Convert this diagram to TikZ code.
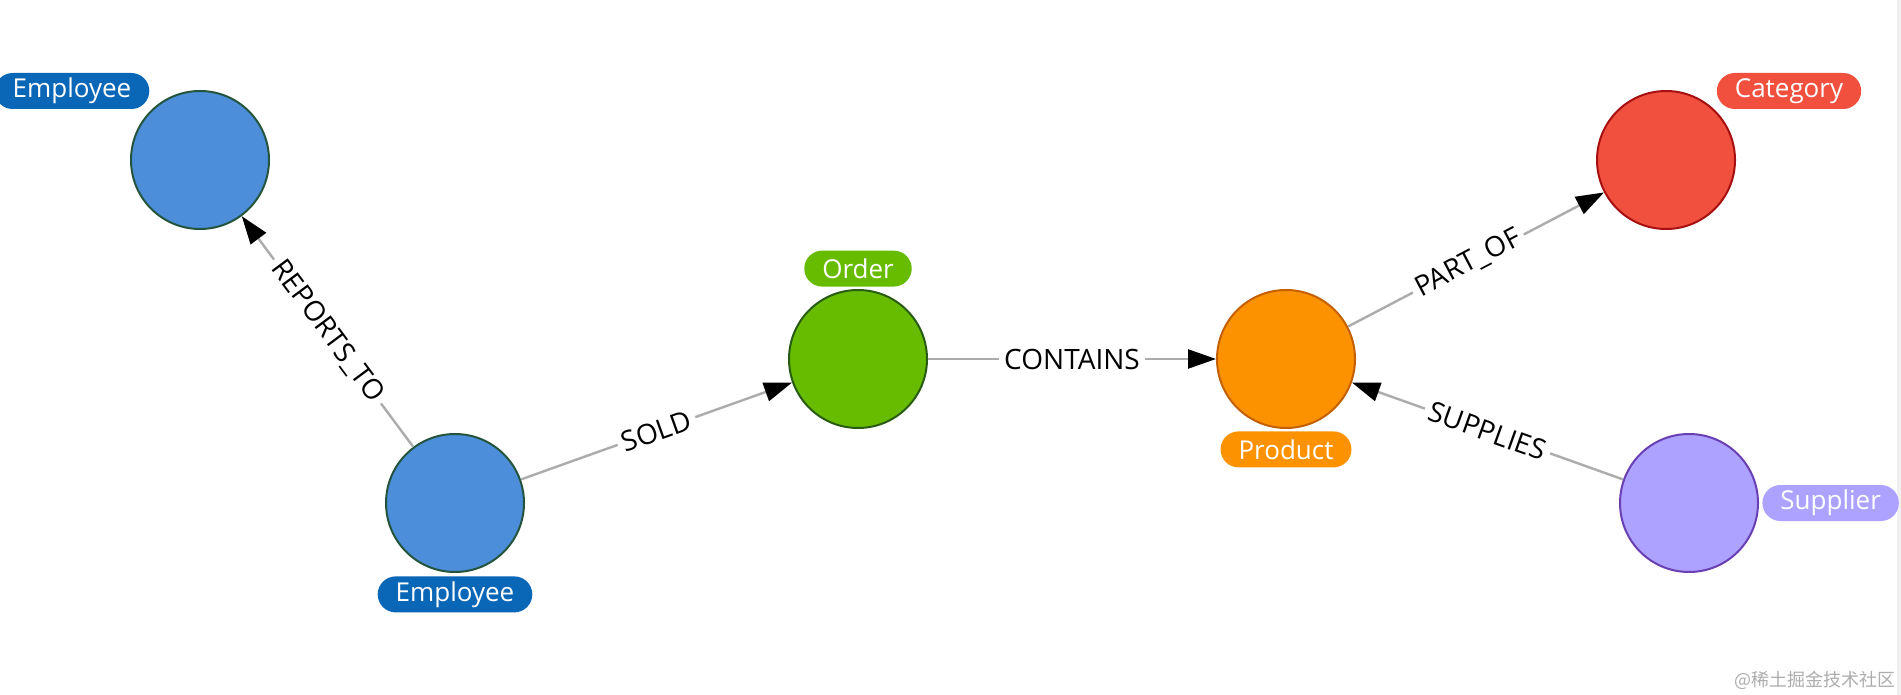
\documentclass[tikz,border=0pt]{standalone}
\usepackage{fontspec}
\setmainfont{Open Sans}
\newfontfamily\cjkfont{Noto Sans CJK SC}
\usepackage{xcolor}
\definecolor{empblue}{RGB}{76,142,218}
\definecolor{empedge}{RGB}{36,84,62}
\definecolor{emptag}{RGB}{10,102,183}
\definecolor{ordergreen}{RGB}{104,188,0}
\definecolor{orderedge}{RGB}{40,92,20}
\definecolor{prodorange}{RGB}{253,146,0}
\definecolor{prodedge}{RGB}{196,96,0}
\definecolor{catred}{RGB}{242,80,62}
\definecolor{catedge}{RGB}{166,16,16}
\definecolor{suppurple}{RGB}{173,162,255}
\definecolor{supedge}{RGB}{104,64,180}
\definecolor{relgray}{RGB}{172,172,172}
\usepackage{tikz}
\usetikzlibrary{positioning,arrows.meta}

\begin{document}
\begin{tikzpicture}[
    x=0.5pt, y=-0.5pt,
    entity/.style={circle, draw, line width=1pt, minimum size=69pt, inner sep=0pt},
    tag/.style={rounded corners=9pt, minimum height=18pt, inner xsep=9pt, inner ysep=0pt,
                text=white, font=\fontsize{13}{15}\selectfont},
    rel/.style={draw=relgray, line width=1.2pt, -{Triangle[length=14pt, width=9.5pt, color=black]}},
    rellabel/.style={fill=white, sloped, inner xsep=2.5pt, inner ysep=2pt,
                     font=\fontsize{14}{16}\selectfont}
  ]
                \useasboundingbox (0,0) rectangle (1901,695);
                \fill[white] (0,0) rectangle (1901,695);
                \fill[black!6] (1897,0) rectangle (1901,695);

                % entities
                \node [entity, fill=empblue, draw=empedge] (emp1) at (200,160) {};
                \node [entity, fill=empblue, draw=empedge] (emp2) at (455,503) {};
                \node [entity, fill=ordergreen, draw=orderedge] (order) at (858,359) {};
                \node [entity, fill=prodorange, draw=prodedge] (product) at (1286,359) {};
                \node [entity, fill=catred, draw=catedge] (cat) at (1666,160) {};
                \node [entity, fill=suppurple, draw=supedge] (supplier) at (1689,503) {};

                % tags
                \node [tag, fill=emptag] (emp1tag) at (72,91) {Employee};
                \node [tag, fill=emptag, below=1.5pt of emp2] (emp2tag) {Employee};
                \node [tag, fill=ordergreen, above=1pt of order] (ordertag) {Order};
                \node [tag, fill=prodorange, below=1pt of product] (producttag) {Product};
                \node [tag, fill=catred] (cattag) at (1789,91) {Category};
                \node [tag, fill=suppurple, right=1.5pt of supplier] (suppliertag) {Supplier};

                % relationships
                \draw [rel] (emp2) -- node [rellabel] {REPORTS\_TO} (emp1);
                \draw [rel] (emp2) -- node [rellabel] {SOLD} (order);
                \draw [rel] (order) -- node [rellabel] {CONTAINS} (product);
                \draw [rel] (product) -- node [rellabel, pos=0.47] {PART\_OF} (cat);
                \draw [rel] (supplier) -- node [rellabel] {SUPPLIES} (product);

                \node [text=black!32, font=\fontsize{9}{11}\selectfont] (mark) at (1815,680) {\cjkfont @稀土掘金技术社区};
            \end{tikzpicture}
\end{document}
